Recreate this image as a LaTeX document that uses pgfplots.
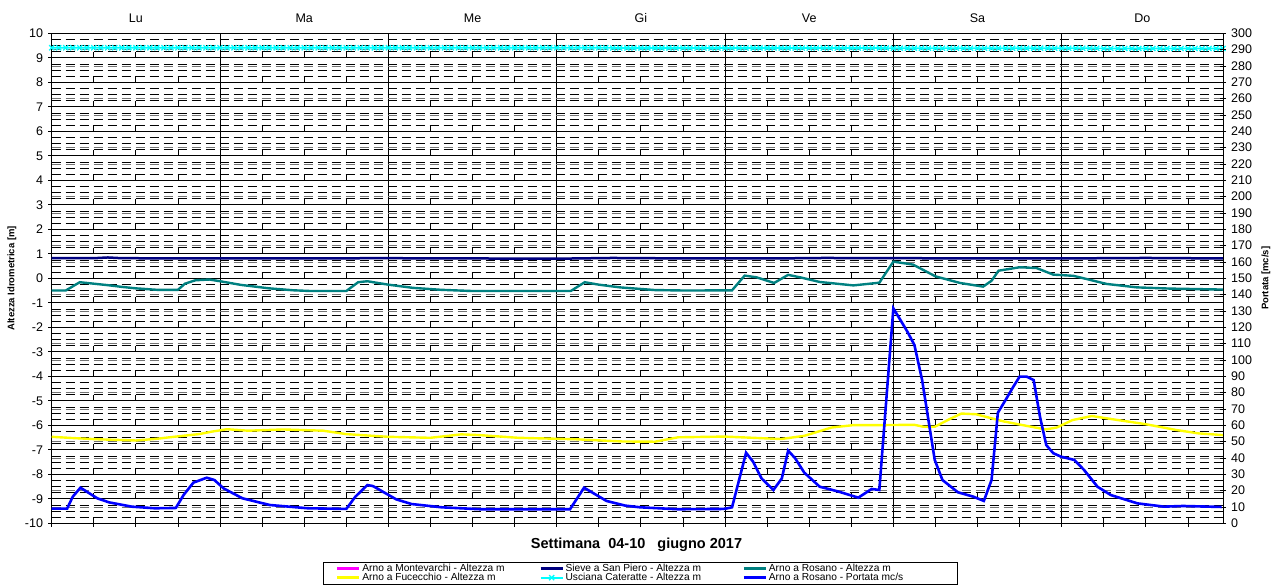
\documentclass[border=0pt]{standalone}
\usepackage{fontspec}
\setmainfont{Liberation Sans}
\usepackage{pgfplots}
\pgfplotsset{compat=1.18}
\definecolor{cteal}{RGB}{0,128,128}
\definecolor{cnavy}{RGB}{0,0,128}
\definecolor{cyell}{RGB}{255,255,0}
\definecolor{ccyan}{RGB}{0,255,255}
\definecolor{cmag}{RGB}{255,0,255}
\definecolor{cblue}{RGB}{0,0,255}
\newcommand{\tickfont}{\fontsize{12.5bp}{15bp}\selectfont}
\begin{document}
\begin{tikzpicture}
\useasboundingbox (-51.7bp,-61.7bp) rectangle (1226.3bp,523.3bp);
\begin{axis}[
  at={(0,0)}, anchor=south west, scale only axis,
  width=1171.3bp, height=490bp,
  clip=false,
  xmin=0, xmax=167, ymin=-10, ymax=10,
  axis line style={black, line width=0.9bp},
  tick pos=left, tick align=outside,
  major tick length=3.5bp, minor tick length=0pt,
  tick style={black, line width=0.8bp},
  xtick={0,6,...,162}, xticklabels={},
  xmajorgrids,
  major x grid style={black, line width=0.8bp, dash pattern=on 6bp off 18.5bp},
  extra x ticks={24,48,72,96,120,144},
  extra x tick labels={},
  extra x tick style={grid=major, major x grid style={solid, black, line width=0.8bp}},
  ytick={-10,-9,...,10},
  yticklabels={-10,-9,-8,-7,-6,-5,-4,-3,-2,-1,0,1,2,3,4,5,6,7,8,9,10},
  minor y tick num=3,
  ymajorgrids, yminorgrids,
  major y grid style={black, line width=0.8bp},
  minor y grid style={black, line width=0.8bp, dash pattern=on 9bp off 5bp},
  extra y ticks={-9.3333,-8.6667,-7.3333,-6.6667,-5.3333,-4.6667,-3.3333,-2.6667,-1.3333,-0.6667,0.6667,1.3333,2.6667,3.3333,4.6667,5.3333,6.6667,7.3333,8.6667,9.3333},
  extra y tick labels={},
  extra y tick style={grid=major, major tick length=0pt, major y grid style={black!55, line width=0.8bp, dash pattern=on 9bp off 5bp}},
  yticklabel style={font=\tickfont, anchor=east, inner sep=0pt, xshift=-5bp},
  xlabel={Settimana\ \ 04-10\ \ \ giugno 2017},
  xlabel style={at={(rel axis cs:0.4993,0)}, anchor=center, yshift=-21.7bp, font=\bfseries\fontsize{14.5bp}{16bp}\selectfont},
  ylabel={Altezza Idrometrica [m]},
  ylabel style={at={(rel axis cs:0,0.5)}, anchor=center, yshift=39.7bp, font=\bfseries\fontsize{9.5bp}{11bp}\selectfont},
]
% Sieve a San Piero - Altezza m
\addplot[cnavy, line width=2.5bp] coordinates {(0,0.82) (6,0.82) (8,0.85) (10,0.82) (24,0.81) (48,0.82) (60,0.81) (72,0.80) (80,0.83) (84,0.82) (96,0.81) (108,0.82) (110,0.83) (120,0.82) (144,0.81) (156,0.83) (167,0.81)};
% Arno a Rosano - Altezza m
\addplot[cteal, line width=2.4bp] coordinates {(0,-0.50) (2,-0.50) (4,-0.16) (6,-0.22) (8,-0.28) (10,-0.35) (12,-0.41) (15,-0.47) (18,-0.47) (19,-0.22) (20.5,-0.08) (22.5,-0.05) (24,-0.12) (27,-0.27) (31,-0.41) (34.5,-0.49) (37,-0.52) (42,-0.52) (43.7,-0.16) (45,-0.12) (48,-0.26) (51.5,-0.39) (55.5,-0.47) (60,-0.52) (67,-0.52) (74,-0.52) (76,-0.16) (78,-0.26) (81,-0.37) (86,-0.48) (90.5,-0.50) (97,-0.49) (98.8,0.11) (100.5,0.04) (103,-0.19) (105,0.14) (106.7,0.04) (109.5,-0.15) (114.3,-0.29) (118,-0.18) (120,0.68) (122.8,0.56) (126,0.08) (129.5,-0.19) (132.8,-0.34) (134,-0.10) (135,0.31) (138,0.45) (140.4,0.42) (142.8,0.15) (145.7,0.10) (150.4,-0.23) (154.7,-0.37) (159.4,-0.42) (167,-0.46)};
% Arno a Fucecchio - Altezza m
\addplot[cyell, line width=2.4bp] coordinates {(0,-6.47) (3,-6.52) (6.5,-6.57) (12,-6.62) (15,-6.55) (17.4,-6.47) (21,-6.36) (23,-6.25) (25,-6.16) (28,-6.22) (33,-6.17) (38.7,-6.22) (42,-6.36) (48,-6.47) (54,-6.51) (58.4,-6.37) (61,-6.40) (66.5,-6.51) (74.7,-6.57) (81.3,-6.66) (86,-6.67) (89.3,-6.49) (95.9,-6.46) (104,-6.56) (107.3,-6.43) (111.2,-6.09) (114.4,-5.99) (119,-5.99) (123,-5.98) (124.3,-6.06) (125.9,-6.06) (128,-5.75) (129.7,-5.52) (131.8,-5.55) (135.7,-5.84) (138.4,-5.99) (141.7,-6.17) (143.3,-6.09) (145.5,-5.79) (148.3,-5.62) (152.1,-5.79) (155.9,-5.95) (160.3,-6.19) (163.5,-6.33) (167,-6.40)};
% Usciana Cateratte - Altezza m
\addplot[ccyan, line width=1.6bp, mark=x, mark size=3.6bp, mark options={line width=1.3bp}] coordinates {
(0,9.41) (1,9.41) (2,9.41) (3,9.41) (4,9.41) (5,9.41) (6,9.41) (7,9.41) (8,9.41) (9,9.41)
(10,9.41) (11,9.41) (12,9.41) (13,9.41) (14,9.41) (15,9.41) (16,9.41) (17,9.41) (18,9.41) (19,9.41)
(20,9.41) (21,9.41) (22,9.41) (23,9.41) (24,9.41) (25,9.41) (26,9.41) (27,9.41) (28,9.41) (29,9.41)
(30,9.41) (31,9.41) (32,9.41) (33,9.41) (34,9.41) (35,9.41) (36,9.41) (37,9.41) (38,9.41) (39,9.41)
(40,9.41) (41,9.41) (42,9.41) (43,9.41) (44,9.41) (45,9.41) (46,9.41) (47,9.41) (48,9.41) (49,9.41)
(50,9.41) (51,9.41) (52,9.41) (53,9.41) (54,9.41) (55,9.41) (56,9.41) (57,9.41) (58,9.41) (59,9.41)
(60,9.41) (61,9.41) (62,9.41) (63,9.41) (64,9.41) (65,9.41) (66,9.41) (67,9.41) (68,9.41) (69,9.41)
(70,9.41) (71,9.41) (72,9.41) (73,9.41) (74,9.41) (75,9.41) (76,9.41) (77,9.41) (78,9.41) (79,9.41)
(80,9.40) (81,9.40) (82,9.40) (83,9.40) (84,9.40) (85,9.40) (86,9.40) (87,9.40) (88,9.40) (89,9.40)
(90,9.40) (91,9.40) (92,9.40) (93,9.40) (94,9.40) (95,9.40) (96,9.40) (97,9.40) (98,9.40) (99,9.40)
(100,9.40) (101,9.40) (102,9.40) (103,9.40) (104,9.40) (105,9.40) (106,9.40) (107,9.40) (108,9.40) (109,9.40)
(110,9.40) (111,9.40) (112,9.40) (113,9.40) (114,9.40) (115,9.40) (116,9.40) (117,9.40) (118,9.40) (119,9.40)
(120,9.39) (121,9.39) (122,9.39) (123,9.39) (124,9.39) (125,9.39) (126,9.39) (127,9.39) (128,9.39) (129,9.39)
(130,9.39) (131,9.39) (132,9.39) (133,9.39) (134,9.39) (135,9.39) (136,9.39) (137,9.39) (138,9.39) (139,9.39)
(140,9.39) (141,9.39) (142,9.39) (143,9.39) (144,9.39) (145,9.39) (146,9.39) (147,9.39) (148,9.39) (149,9.39)
(150,9.38) (151,9.38) (152,9.38) (153,9.38) (154,9.38) (155,9.38) (156,9.38) (157,9.38) (158,9.38) (159,9.38)
(160,9.38) (161,9.38) (162,9.38) (163,9.38) (164,9.38) (165,9.38) (166,9.38) (167,9.38)};
\end{axis}
\begin{axis}[
  at={(0,0)}, anchor=south west, scale only axis,
  width=1171.3bp, height=490bp,
  clip=false,
  xmin=0, xmax=167, ymin=0, ymax=300,
  axis x line*=top, axis y line*=right,
  axis line style={black, line width=0.9bp},
  tick align=center, major tick length=6bp,
  xtick={12,36,60,84,108,132,155.5},
  xticklabels={Lu,Ma,Me,Gi,Ve,Sa,Do},
  x tick style={draw=none},
  xticklabel style={font=\tickfont, anchor=center, inner sep=0pt, yshift=12bp},
  ytick={0,10,...,300},
  yticklabels={0,10,20,30,40,50,60,70,80,90,100,110,120,130,140,150,160,170,180,190,200,210,220,230,240,250,260,270,280,290,300},
  y tick style={black, line width=0.8bp},
  yticklabel style={font=\tickfont, anchor=west, inner sep=0pt, xshift=5bp},
  ylabel={Portata [mc/s]},
  ylabel style={at={(rel axis cs:1,0.5)}, anchor=center, yshift=-43bp, font=\bfseries\fontsize{9.5bp}{11bp}\selectfont},
  legend columns=3,
  legend image code/.code={\draw[#1, mark repeat=2, mark phase=2] plot coordinates {(0bp,0bp) (11bp,0bp) (22bp,0bp)};},
  legend style={at={(rel axis cs:0.5023,0)}, anchor=north, yshift=-38.4bp,
    draw=black, line width=0.8bp, inner xsep=13bp, inner ysep=1.5bp,
    font=\fontsize{10.2bp}{10bp}\selectfont,
    nodes={inner sep=0pt, text height=7.4bp, text depth=2bp},
    row sep=0pt, column sep=0pt,
    /tikz/every odd column/.append style={column sep=1.7bp},
    /tikz/every even column/.append style={column sep=2bp}},
]
\addlegendimage{cmag, line width=2.5bp}
\addlegendentry{\makebox[175bp][l]{Arno a Montevarchi - Altezza m}}
\addlegendimage{cnavy, line width=2.5bp}
\addlegendentry{\makebox[175bp][l]{Sieve a San Piero - Altezza m}}
\addlegendimage{cteal, line width=2.5bp}
\addlegendentry{\makebox[175bp][l]{Arno a Rosano - Altezza m}}
\addlegendimage{cyell, line width=2.5bp}
\addlegendentry{\makebox[175bp][l]{Arno a Fucecchio - Altezza m}}
\addlegendimage{ccyan, line width=1.6bp, mark=x, mark size=3.6bp, mark options={line width=1.3bp}}
\addlegendentry{\makebox[175bp][l]{Usciana Cateratte - Altezza m}}
\addplot[cblue, line width=2.6bp] coordinates {(0,9) (2.2,9) (3,16.3) (4.1,21.8) (6.5,15.3) (8.2,12.8) (11.4,10.2) (14.7,9.2) (17.7,9.4) (18.8,17.3) (20.2,24.9) (22.1,27.9) (23.2,26.5) (24.5,21.4) (27.2,15.3) (31.1,11.2) (36.5,9.2) (42,8.8) (43.3,16.3) (45,23.4) (45.8,22.8) (49.1,14.7) (51.3,11.8) (55.6,9.8) (61.1,8.6) (73.9,8.6) (75.9,21.8) (79.1,13.7) (81.8,10.8) (83.9,9.8) (89.3,8.6) (95.9,8.8) (97,9.8) (99,43.2) (100,37.7) (101.2,27.5) (102.9,20.4) (104.1,27.5) (105,44.5) (106,39.8) (107.3,31) (109.5,22.4) (112.2,19.4) (115,15.7) (116.9,21) (118,20.4) (120,131.6) (121,124.5) (122,117.3) (123,109.2) (124.1,87.7) (125,63.2) (125.9,38.8) (127,26.5) (129.2,19) (131.4,16.3) (132.9,13.7) (134,26.5) (134.9,67.7) (136,75.5) (137.1,83.6) (138,89.8) (139,89.8) (140,87.7) (140.9,65.3) (141.8,47.9) (142.8,42.9) (143.9,40.8) (145.8,38.8) (147.2,32.6) (149.1,22.4) (151,17.3) (154.8,12.2) (158.6,10.2) (161.3,10.6) (166.8,10)};
\addlegendentry{\makebox[175bp][l]{Arno a Rosano - Portata mc/s}}
\end{axis}
\end{tikzpicture}
\end{document}
